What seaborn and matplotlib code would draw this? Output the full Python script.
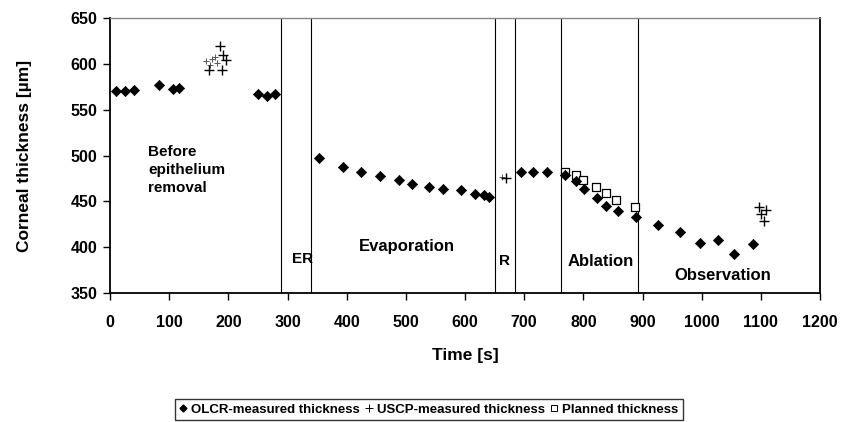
import matplotlib
matplotlib.use("Agg")
import matplotlib.pyplot as plt
import seaborn as sns
import pandas as pd
from matplotlib.lines import Line2D

# ---------------- data ----------------
olcr_time = [10, 26, 41, 82, 107, 117, 250, 265, 279,
             354, 394, 425, 456, 488, 511, 539, 562, 594, 617, 632, 641,
             694, 715, 739,
             769, 787, 801, 823, 839, 858, 889,
             926, 964, 998, 1028, 1055, 1087]
olcr_thickness = [570, 570, 571, 577, 573, 574, 567, 565, 567,
                  497, 487, 482, 478, 473, 469, 466, 463, 462, 458, 457, 455,
                  482, 482, 482,
                  479, 472, 464, 454, 445, 439, 433,
                  424, 417, 405, 408, 393, 404]

uscp_time = [186, 191, 196, 168, 190, 670, 1097, 1108, 1101, 1106]
uscp_thickness = [619, 610, 604, 593, 593, 476, 444, 441, 436, 429]

uscp_faint_time = [163, 172, 169, 180, 177, 662]
uscp_faint_thickness = [603, 605, 599, 601, 608, 477]

planned_time = [769, 787, 800, 822, 838, 856, 887]
planned_thickness = [482, 479, 473, 466, 459, 451, 444]

phase_boundaries = [289, 340, 650, 684, 763, 892]
phase_labels = ["Before\nepithelium\nremoval", "ER", "Evaporation", "R",
                "Ablation", "Observation"]

x_ticks = list(range(0, 1201, 100))
y_ticks = list(range(350, 651, 50))

legend_labels = ["OLCR-measured thickness", "USCP-measured thickness",
                 "Planned thickness"]

# ---------------- style ----------------
sns.set_style("ticks")
plt.rcParams['font.family'] = ['Liberation Sans', 'DejaVu Sans']
plt.rcParams['font.weight'] = 'bold'
plt.rcParams['axes.labelweight'] = 'bold'
plt.rcParams['text.color'] = 'black'
plt.rcParams['axes.labelcolor'] = 'black'
plt.rcParams['xtick.color'] = 'black'
plt.rcParams['ytick.color'] = 'black'

fig = plt.figure(figsize=(8.41, 4.22), dpi=100)
ax = fig.add_axes([110 / 841, 1 - 293 / 422, 710 / 841, 275 / 422])

olcr_df = pd.DataFrame({"t": olcr_time, "d": olcr_thickness})
uscp_df = pd.DataFrame({"t": uscp_time, "d": uscp_thickness})
faint_df = pd.DataFrame({"t": uscp_faint_time, "d": uscp_faint_thickness})
plan_df = pd.DataFrame({"t": planned_time, "d": planned_thickness})

for xb in phase_boundaries:
    ax.axvline(xb, color="black", lw=0.8, zorder=1)

sns.scatterplot(data=plan_df, x="t", y="d", ax=ax, marker="s", s=32,
                facecolor="white", edgecolor="black", linewidth=0.9, zorder=3)
sns.scatterplot(data=olcr_df, x="t", y="d", ax=ax, marker="D", s=27,
                color="black", edgecolor="black", linewidth=0.5, zorder=4)
sns.scatterplot(data=faint_df, x="t", y="d", ax=ax, marker="+", s=18,
                color="#555555", linewidth=0.7, zorder=3)
sns.scatterplot(data=uscp_df, x="t", y="d", ax=ax, marker="+", s=45,
                color="black", linewidth=1.0, zorder=4)

# phase labels
tkw = dict(fontsize=11, fontweight="bold", color="black")
ax.text(65, 484, phase_labels[0], ha="left", va="center", linespacing=1.35, **tkw)
ax.text(325, 387, phase_labels[1], ha="center", va="center", **tkw)
ax.text(502, 401, phase_labels[2], ha="center", va="center", fontsize=12,
        fontweight="bold", color="black")
ax.text(667, 385, phase_labels[3], ha="center", va="center", **tkw)
ax.text(830, 384, phase_labels[4], ha="center", va="center", fontsize=12,
        fontweight="bold", color="black")
ax.text(1035, 369, phase_labels[5], ha="center", va="center", fontsize=12,
        fontweight="bold", color="black")

ax.set_xlim(0, 1200)
ax.set_ylim(350, 650)
ax.set_xticks(x_ticks)
ax.set_yticks(y_ticks)
ax.set_xticklabels([str(v) for v in x_ticks], fontsize=11.5, fontweight="bold")
ax.set_yticklabels([str(v) for v in y_ticks], fontsize=11.5, fontweight="bold")
ax.tick_params(axis="both", direction="out", length=5, width=1.0, pad=11,
               colors="black")
ax.tick_params(axis="y", pad=4)

ax.set_xlabel("Time [s]", fontsize=12.5, fontweight="bold", labelpad=13)
ax.set_ylabel("Corneal thickness [µm]", fontsize=12.5, fontweight="bold",
              labelpad=28)

for side in ["left", "bottom", "right"]:
    ax.spines[side].set_visible(True)
    ax.spines[side].set_color("black")
    ax.spines[side].set_linewidth(1.3)
ax.spines["top"].set_visible(True)
ax.spines["top"].set_color("#888888")
ax.spines["top"].set_linewidth(1.0)

handles = [
    Line2D([], [], ls="none", marker="D", ms=3.5, color="black"),
    Line2D([], [], ls="none", marker="+", ms=6, color="black", mew=0.7),
    Line2D([], [], ls="none", marker="s", ms=4.5, mfc="white", mec="black", mew=0.7),
]
leg = fig.legend(handles, legend_labels, loc="lower center",
                 bbox_to_anchor=(429 / 841, 0.004), ncol=3, frameon=True,
                 fancybox=False, edgecolor="black", fontsize=9.5,
                 handlelength=0.5, handletextpad=0.3, columnspacing=0.5,
                 borderpad=0.35, borderaxespad=0.0)
leg.get_frame().set_linewidth(1.0)
for t in leg.get_texts():
    t.set_fontweight("bold")
    t.set_color("black")

fig.savefig("out.png", dpi=100)
